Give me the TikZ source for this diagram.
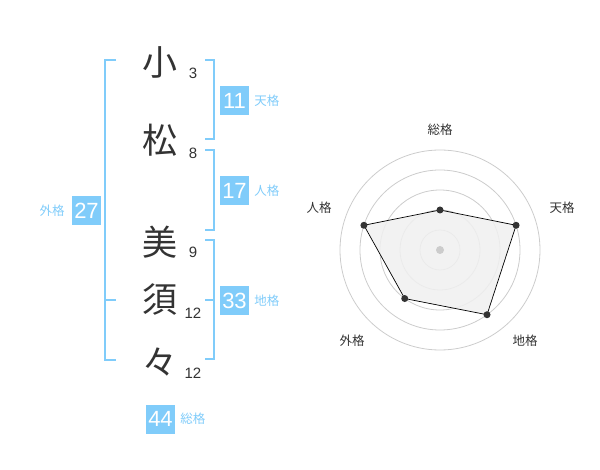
\documentclass[tikz,border=0pt]{standalone}
\usepackage{fontspec}
\setmainfont{Liberation Sans}
\newfontfamily\jp{Noto Sans CJK JP}
\usetikzlibrary{positioning}
\definecolor{namblue}{RGB}{128,204,250}
\definecolor{ink}{RGB}{51,51,51}
\definecolor{ringgray}{RGB}{204,204,204}
\definecolor{areagray}{RGB}{240,240,240}

\begin{document}
\begin{tikzpicture}[x=1pt, y=-1pt,
    kanji/.style={text=ink, font=\jp\fontsize{35}{35}\selectfont, inner sep=0pt},
    strokes/.style={text=ink, font=\fontsize{15}{15}\selectfont, inner sep=0pt},
    box/.style={fill=namblue, text=white, minimum size=29pt, inner sep=0pt, font=\fontsize{22}{22}\selectfont},
    kaku/.style={text=namblue, font=\jp\fontsize{12.5}{12.5}\selectfont, inner sep=0pt},
    radlbl/.style={text=ink, font=\jp\fontsize{12.5}{12.5}\selectfont, inner sep=0pt},
    brak/.style={draw=namblue, line width=2pt}]
    \useasboundingbox (0,0) rectangle (600,470);
    \node[kanji] (k1) at (160,62) {小};
    \node[kanji] (k2) at (160,140) {松};
    \node[kanji] (k3) at (160,242) {美};
    \node[kanji] (k4) at (160,300) {須};
    \node[kanji] (k5) at (160,362) {々};
    \node[strokes] (s1) at (193,73) {3};
    \node[strokes] (s2) at (193,153) {8};
    \node[strokes] (s3) at (193,252) {9};
    \node[strokes] (s4) at (193,313) {12};
    \node[strokes] (s5) at (193,373) {12};
    \draw[brak] (116,60) -- (105,60) -- (105,360) -- (116,360);
    \draw[brak] (105,300) -- (116,300);
    \draw[brak] (205,60) -- (214,60) -- (214,139) -- (205,139);
    \draw[brak] (205,150) -- (214,150) -- (214,230) -- (205,230);
    \draw[brak] (205,240) -- (214,240) -- (214,359) -- (205,359);
    \draw[brak] (205,300) -- (214,300);
    \node[box] (b11) at (234.5,100.5) {11};
    \node[box] (b17) at (234.5,190.5) {17};
    \node[box] (b33) at (234.5,300.5) {33};
    \node[box] (b27) at (86.5,211) {27};
    \node[box] (b44) at (160.5,419) {44};
    \node[kaku, right=5pt of b11] (ten) {天格};
    \node[kaku, right=5pt of b17] (jin) {人格};
    \node[kaku, right=5pt of b33] (chi) {地格};
    \node[kaku, left=7pt of b27] (gai) {外格};
    \node[kaku, right=5pt of b44] (sou) {総格};
    \begin{scope}[shift={(440,250)}, y=1pt]
        \foreach \r in {20,40,...,100}
            \draw[ringgray, line width=0.8pt] (0,0) circle (\r);
        \draw[fill=areagray, fill opacity=0.85, draw=black, line width=0.7pt] (90:40) -- (18:80) -- (-54:80) -- (-126:60) -- (162:80) -- cycle;
        \fill[ringgray] (0,0) circle (4);
        \foreach \a/\r in {90/40,18/80,-54/80,-126/60,162/80}
            \fill[ink] (\a:\r) circle (3.5);
        \foreach \p/\t [count=\i] in {{(0,120)}/総格,{(122,42)}/天格,{(85,-91)}/地格,{(-88,-91)}/外格,{(-121,42)}/人格}
            \node[radlbl] (rad\i) at \p {\t};
    \end{scope}
\end{tikzpicture}
\end{document}
